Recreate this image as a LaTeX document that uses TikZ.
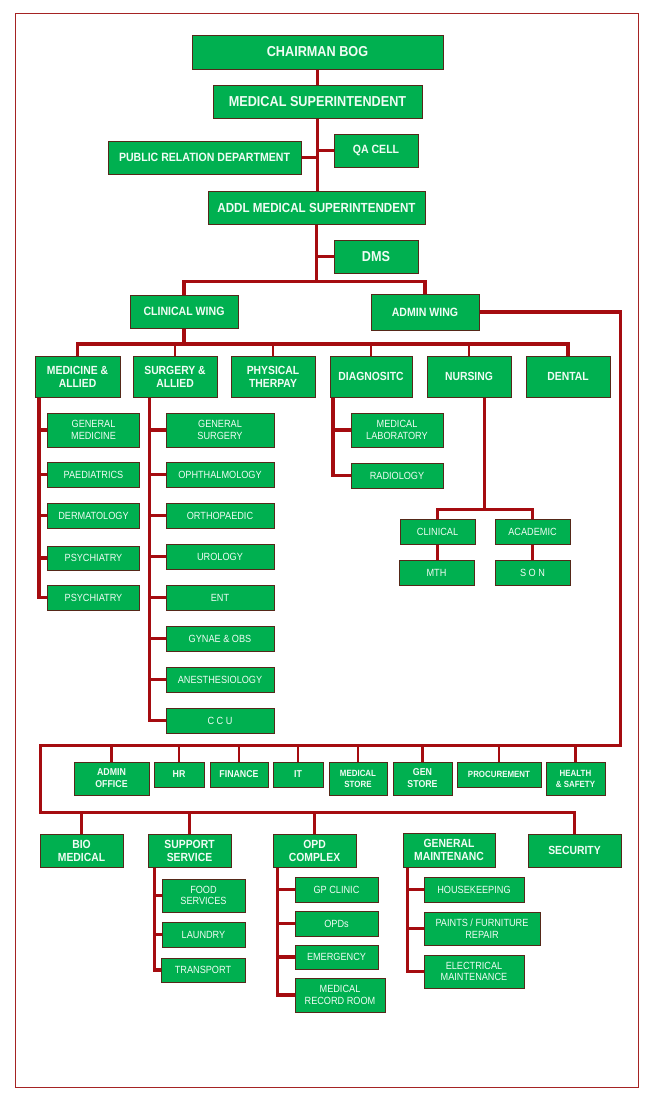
\documentclass[tikz,border=0pt]{standalone}
\usepackage{fontspec}
\setmainfont{Liberation Sans}[FakeStretch=0.88]
\usetikzlibrary{backgrounds}
\definecolor{boxgreen}{RGB}{0,176,80}
\definecolor{boxedge}{RGB}{85,40,25}
\definecolor{linered}{RGB}{165,12,16}
\definecolor{framered}{RGB}{165,35,35}
\definecolor{txt}{RGB}{240,252,244}
\tikzset{
  box/.style={draw=boxedge,line width=0.9pt,fill=boxgreen,text=txt,inner sep=0pt,align=center},
  big/.style={box,font=\bfseries\fontsize{14.4}{16}\selectfont},
  addlf/.style={box,font=\bfseries\fontsize{13.2}{16}\selectfont},
  mid/.style={box,font=\bfseries\fontsize{12}{14}\selectfont},
  pr/.style={box,font=\bfseries\fontsize{12}{13}\selectfont},
  dept/.style={box,font=\bfseries\fontsize{11.8}{13}\selectfont},
  sub/.style={box,font=\fontsize{10.4}{11.5}\selectfont},
  adm/.style={box,font=\bfseries\fontsize{10}{12}\selectfont},
  admsm/.style={box,font=\bfseries\fontsize{9}{11}\selectfont},
  ln/.style={draw=linered,line width=2.5pt},
  trunk/.style={draw=linered,line width=3.2pt},
  frame/.style={draw=framered,line width=1pt}
}
\newcommand{\bx}[7]{\node[#6,minimum width={#4pt-#2pt},minimum height={#5pt-#3pt}] (#1) at ({(#2+#4)/2},{(#3+#5)/2}) {#7};}
\begin{document}
\begin{tikzpicture}[x=1pt,y=-1pt]
\useasboundingbox (0,0) rectangle (651,1105);
\draw[frame] (15.4,13.3) rectangle (638.5,1087);
% top
\bx{chair}{192}{35}{443}{69}{big}{CHAIRMAN BOG}
\bx{ms}{213}{85}{422}{118}{big}{MEDICAL SUPERINTENDENT}
\bx{qa}{334}{134}{418}{167}{mid}{QA CELL}
\bx{prd}{108}{141}{301}{174}{pr}{PUBLIC RELATION DEPARTMENT}
\bx{addl}{208}{191}{425}{224}{addlf}{ADDL MEDICAL SUPERINTENDENT}
\bx{dms}{334}{240}{418}{273}{big}{DMS}
\bx{cw}{130}{295}{238}{328}{mid}{CLINICAL WING}
\bx{aw}{371}{294}{479}{330}{mid}{ADMIN WING}
% departments
\bx{med}{35}{356}{120}{397}{dept}{MEDICINE \&\\ALLIED}
\bx{sur}{133}{356}{217}{397}{dept}{SURGERY \&\\ALLIED}
\bx{phy}{231}{356}{315}{397}{dept}{PHYSICAL\\THERPAY}
\bx{diag}{330}{356}{412}{397}{dept}{DIAGNOSITC}
\bx{nur}{427}{356}{511}{397}{dept}{NURSING}
\bx{den}{526}{356}{610}{397}{dept}{DENTAL}
% medicine
\bx{gmed}{47.5}{413}{139.5}{447}{sub}{GENERAL\\MEDICINE}
\bx{paed}{47.5}{462}{139.5}{487}{sub}{PAEDIATRICS}
\bx{derm}{47.5}{503}{139.5}{528}{sub}{DERMATOLOGY}
\bx{psya}{47.5}{546}{139.5}{570}{sub}{PSYCHIATRY}
\bx{psyb}{47.5}{585}{139.5}{610}{sub}{PSYCHIATRY}
% surgery
\bx{gsur}{166}{413}{274}{447}{sub}{GENERAL\\SURGERY}
\bx{oph}{166}{462}{274}{487}{sub}{OPHTHALMOLOGY}
\bx{orth}{166}{503}{274}{528}{sub}{ORTHOPAEDIC}
\bx{uro}{166}{544}{274}{569}{sub}{UROLOGY}
\bx{ent}{166}{585}{274}{610}{sub}{ENT}
\bx{gyn}{166}{626}{274}{651}{sub}{GYNAE \& OBS}
\bx{anes}{166}{667}{274}{692}{sub}{ANESTHESIOLOGY}
\bx{ccu}{166}{708}{274}{733}{sub}{C C U}
% diagnostic
\bx{mlab}{351}{413}{443}{447}{sub}{MEDICAL\\LABORATORY}
\bx{rad}{351}{463}{443}{488}{sub}{RADIOLOGY}
% nursing
\bx{ncl}{400}{519}{475}{544}{sub}{CLINICAL}
\bx{nac}{495}{519}{570}{544}{sub}{ACADEMIC}
\bx{mth}{399}{560}{474}{585}{sub}{MTH}
\bx{son}{495}{560}{570}{585}{sub}{S O N}
% admin row
\bx{admoff}{74}{762}{149}{795}{adm}{ADMIN\\OFFICE}
\bx{hr}{154}{762}{204}{787}{adm}{HR}
\bx{fin}{210}{762}{268}{787}{adm}{FINANCE}
\bx{it}{273}{762}{323}{787}{adm}{IT}
\bx{mst}{329}{762}{387}{795}{admsm}{MEDICAL\\STORE}
\bx{gst}{393}{762}{452}{795}{adm}{GEN\\STORE}
\bx{proc}{457}{762}{541}{787}{admsm}{PROCUREMENT}
\bx{hs}{546}{762}{605}{795}{admsm}{HEALTH\\\& SAFETY}
% bottom row
\bx{bio}{40}{834}{123}{867}{dept}{BIO\\MEDICAL}
\bx{sup}{148}{834}{231}{867}{dept}{SUPPORT\\SERVICE}
\bx{opd}{273}{834}{356}{867}{dept}{OPD\\COMPLEX}
\bx{gm}{403}{833}{495}{867}{dept}{GENERAL\\MAINTENANC}
\bx{sec}{528}{834}{621}{867}{dept}{SECURITY}
% support
\bx{food}{162}{879}{245}{912}{sub}{FOOD\\SERVICES}
\bx{laun}{162}{922}{245}{947}{sub}{LAUNDRY}
\bx{trans}{161}{958}{245}{982}{sub}{TRANSPORT}
% opd
\bx{gp}{295}{877}{378}{902}{sub}{GP CLINIC}
\bx{opds}{295}{911}{378}{936}{sub}{OPDs}
\bx{emer}{295}{945}{378}{969}{sub}{EMERGENCY}
\bx{mrr}{295}{978}{385}{1012}{sub}{MEDICAL\\RECORD ROOM}
% maintenance
\bx{hk}{424}{877}{524}{902}{sub}{HOUSEKEEPING}
\bx{paint}{424}{912}{540}{945}{sub}{PAINTS / FURNITURE\\REPAIR}
\bx{elec}{424}{955}{524}{988}{sub}{ELECTRICAL\\MAINTENANCE}
% helper coordinates
\coordinate (bar0) at (0,281.7);
\coordinate (cb) at (0,344);
\coordinate (nb) at (0,509.3);
\coordinate (ar) at (620.4,745.7);
\coordinate (al) at (40.4,745.7);
\coordinate (bl) at (40.4,812.3);
\coordinate (mt) at ([xshift=4.5pt]med.south west);
\coordinate (st) at ([xshift=17pt]sur.south west);
\coordinate (dt) at ([xshift=3.5pt]diag.south west);
\coordinate (nt) at ([xshift=15.6pt]nur.south);
\coordinate (sut) at ([xshift=6.6pt]sup.south west);
\coordinate (ot) at ([xshift=5.3pt]opd.south west);
\coordinate (gt) at ([xshift=5pt]gm.south west);
\begin{pgfonlayer}{background}
% top chain
\draw[ln] (chair.south) -- (chair.south |- ms.north);
\draw[ln] (ms.south) -- (ms.south |- addl.north);
\draw[ln] (prd.east) -- (prd.east -| ms.south);
\draw[ln] (qa.west) -- (qa.west -| ms.south);
\draw[trunk] (addl.south) -- (addl.south |- bar0);
\draw[ln] (dms.west) -- (dms.west -| addl.south);
\draw[trunk] (cw.north) -- (cw.north |- bar0) -- (aw.north |- bar0) -- (aw.north);
% clinical bar
\draw[trunk] (cw.south) -- (cw.south |- cb);
\draw[trunk] (med.north) -- (med.north |- cb) -- (den.north |- cb) -- (den.north);
\foreach \n in {sur,phy,diag,nur} \draw[ln] (\n.north) -- (\n.north |- cb);
% medicine
\draw[trunk] (mt) -- (mt |- psyb.west) -- (psyb.west);
\foreach \n in {gmed,paed,derm,psya} \draw[trunk] (\n.west) -- (\n.west -| mt);
% surgery
\draw[trunk] (st) -- (st |- ccu.west) -- (ccu.west);
\foreach \n in {gsur,oph,orth,uro,ent,gyn,anes} \draw[trunk] (\n.west) -- (\n.west -| st);
% diagnostic
\draw[trunk] (dt) -- (dt |- rad.west) -- (rad.west);
\draw[trunk] (mlab.west) -- (mlab.west -| dt);
% nursing
\draw[ln] (nt) -- (nt |- nb);
\draw[trunk] (ncl.north) -- (ncl.north |- nb) -- (nac.north |- nb) -- (nac.north);
\draw[trunk] (ncl.south) -- (ncl.south |- mth.north);
\draw[trunk] (nac.south) -- (nac.south |- son.north);
% admin wing
\draw[trunk] (aw.east) -| (ar) -- (al) -- (bl) -| (sec.north);
\foreach \n in {admoff,hr,fin,it,mst,gst,proc,hs} \draw[ln] (\n.north) -- (\n.north |- ar);
\foreach \n in {bio,sup,opd} \draw[trunk] (\n.north) -- (\n.north |- bl);
% support
\draw[trunk] (sut) -- (sut |- trans.west) -- (trans.west);
\foreach \n in {food,laun} \draw[trunk] (\n.west) -- (\n.west -| sut);
% opd
\draw[trunk] (ot) -- (ot |- mrr.west) -- (mrr.west);
\foreach \n in {gp,opds,emer} \draw[trunk] (\n.west) -- (\n.west -| ot);
% maintenance
\draw[trunk] (gt) -- (gt |- elec.west) -- (elec.west);
\foreach \n in {hk,paint} \draw[trunk] (\n.west) -- (\n.west -| gt);
\end{pgfonlayer}
\end{tikzpicture}
\end{document}
